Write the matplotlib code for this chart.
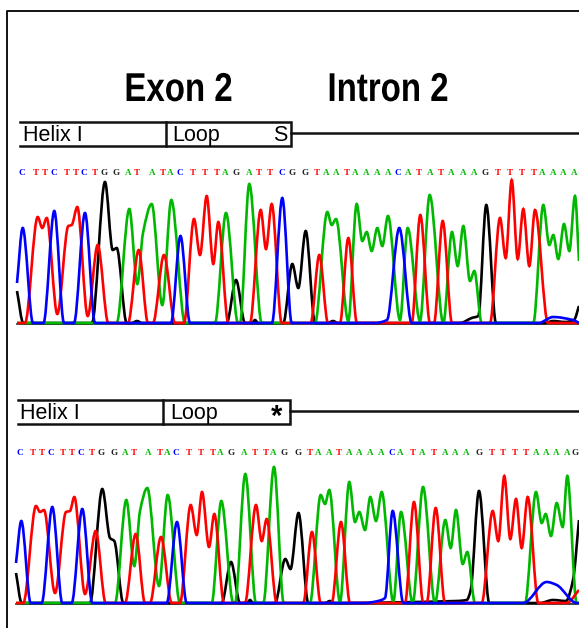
import matplotlib
matplotlib.use("Agg")
import matplotlib.pyplot as plt
from matplotlib.path import Path
from matplotlib.patches import PathPatch
from matplotlib.patheffects import AbstractPathEffect
from matplotlib.transforms import Affine2D

W, H = 579, 628

# base calls: letter and where it sits along the trace
top_bases = list("CTTCTTCTGGATATAC") + list("TTTAGATTCGG") + list("TAATAAAACATATAAAG") + list("TTTTAAAA")
top_base_x = [22, 36, 45, 54, 66.7, 75.7, 84.3, 95.3, 104, 116, 128.3, 137.3, 152.3, 163.3, 170.3, 180,
              192.7, 205.3, 217.3, 225, 236, 248.7, 259.3, 270, 282, 291.7, 305, 317.3, 326, 336, 346.7,
              355.3, 365.7, 376.7, 387.7, 398.3, 407.7, 418.7, 429.7, 441.3, 451.3, 462.7, 473.7, 485,
              498.3, 510.3, 522.3, 533.7, 542.3, 552.7, 562.7, 574.3]

bot_bases = list("CTTCTTCTGGATATAC") + list("TTTAGATTAGG") + list("TAATAAAACATATAAAG") + list("TTTTAAAAG")
bot_base_x = [20, 33, 42.3, 51, 63.3, 72.3, 81.3, 92.3, 101.3, 113.7, 125, 134, 148.3, 160, 166.7, 176.3,
              188.7, 200.7, 213, 220.3, 231, 244.3, 255, 265.7, 273.3, 284.3, 297.7, 310, 318.3, 329.3, 339,
              349, 359, 369.7, 380.7, 391.7, 400.3, 412.7, 422.3, 434, 444.7, 455.3, 466.3, 479,
              492, 503.3, 515.3, 526.3, 535.7, 545.7, 556.3, 567, 575.5]

# top trace, read as peaks / valleys / feet (scan position, signal)
top_blue_x = [17, 22.7, 33, 43.5, 54.3, 64, 74, 85, 95, 171, 180.5, 190, 272, 282.3, 291.7, 375, 387, 399.3, 411.7, 540, 544, 553, 573, 579]
top_blue_y = [40, 95, 0, 0, 112, 0, 0, 110, 0, 0, 87, 0, 0, 125, 0, 0, 3, 95, 0, 0, 2, 6, 3, 0]

top_red_x = [17, 25, 37.7, 42.3, 46.7, 57.3, 68.3, 71.7, 77.3, 87.7, 97.7, 108.3, 128, 138.7, 148, 153, 164, 175,
             184, 194, 200, 206.7, 213.3, 218.3, 228.3, 250, 260.7, 266, 271.7, 281.7, 310.7, 319.3, 328, 340,
             348.3, 357, 411.7, 420.3, 430, 434, 442.7, 452, 490, 500, 505.7, 511.7, 517.7, 523.3, 529.3, 535, 548, 579]
top_red_y = [0, 0, 106, 95, 105, 9, 97, 98, 116, 7, 78, 0, 0, 73, 0, 0, 68, 0,
             0, 104, 68, 127, 59, 101, 0, 0, 113, 74, 119, 0, 0, 68, 0, 0,
             85, 0, 0, 108, 0, 0, 102, 0, 0, 105, 65, 143, 64, 114, 57, 113, 0, 0]

top_green_x = [17, 116.7, 129.3, 137.3, 143, 151.7, 162.3, 171.3, 185, 215, 226, 238, 240, 249.3, 261.7, 315, 327.3,
               331.7, 336, 348.3, 356.7, 362.3, 366.7, 371.7, 377.3, 382.3, 388, 400, 407.7, 420, 429.7, 443.3,
               452, 457.7, 463.3, 470, 474.3, 481.7, 533.3, 543.3, 549.3, 553.3, 558.3, 564, 569.3, 575, 579]
top_green_y = [0, 0, 114, 39, 90, 119, 18, 123, 0, 0, 110, 0, 0, 139, 0, 0, 111,
               98, 104, 2, 119, 82, 91, 72, 95, 77, 107, 3, 95, 2, 128, 0,
               91, 57, 97, 42, 52, 0, 0, 118, 78, 88, 64, 99, 72, 127, 62]

top_black_x = [17, 23.3, 92, 105, 112.7, 116.7, 126.7, 132, 137, 142, 226.7, 236, 245, 252, 255, 258, 283.3, 292.3,
               298.3, 305.7, 315, 328, 333, 338, 460, 471.7, 478.3, 486.3, 496, 545, 553, 565, 574, 579]
top_black_y = [32, 0, 0, 141, 73, 75, 0, 0, 2, 0, 0, 43, 0, 0, 3, 0, 0, 59,
               35, 92, 0, 0, 2, 0, 0, 5, 7, 118, 0, 0, 2, 1, 3, 17]

# bottom trace
bot_blue_x = [16, 21.3, 30.7, 41.7, 52.3, 62.3, 71.7, 82.3, 92.3, 166.7, 177, 186.7, 365, 378, 385, 392.7, 403.3, 523.3, 546.7, 556.7, 576.7, 579]
bot_blue_y = [40, 82, 0, 0, 96, 0, 0, 94, 0, 0, 81, 0, 0, 2, 5, 92, 0, 0, 21, 18, 0, 0]

bot_red_x = [16, 23.3, 36, 40, 44, 55, 66, 70, 74.3, 85, 95.7, 105.7, 125, 135.7, 145, 150, 161, 171.7,
             180, 190.7, 196.7, 202, 209, 214.3, 224, 245, 256, 261.7, 266.7, 276.7, 303.3, 312, 320.7,
             331.7, 341, 350, 405, 414, 423.3, 426.7, 435.7, 445, 481.7, 492.7, 498.3, 504.3, 510.3, 516,
             521.7, 527.7, 538.3, 566.7, 579]
bot_red_y = [0, 0, 97, 91, 93, 10, 91, 92, 106, 9, 72, 0, 0, 69, 0, 0, 66, 0,
             0, 98, 68, 111, 56, 89, 0, 0, 98, 62, 84, 0, 0, 71, 0,
             0, 81, 0, 0, 101, 0, 0, 95, 0, 0, 92, 62, 127, 64, 104,
             55, 106, 0, 0, 13]

bot_green_x = [16, 115, 126.3, 134.3, 140, 147.3, 159, 167.7, 180, 211.7, 221.3, 233.3, 235, 245.3, 256, 263.3, 274,
               283.7, 310, 320.7, 325, 329.3, 340, 349.3, 355, 359.3, 365, 370.3, 376, 381.7, 393.3, 401, 412.7,
               423, 435, 445.3, 450.7, 456, 462.7, 467.3, 475, 525, 536, 541.7, 545.7, 551, 556.7, 562.7, 567.3,
               576.7, 579]
bot_green_y = [0, 0, 103, 37, 92, 115, 17, 108, 0, 0, 102, 0, 0, 129, 0, 0, 136,
               0, 0, 108, 99, 113, 1, 121, 81, 91, 73, 106, 82, 111, 1, 91, 0,
               116, 0, 83, 55, 93, 39, 51, 0, 0, 111, 80, 89, 67, 100, 76, 127,
               0, 0]

bot_black_x = [16, 21.7, 90, 102.3, 110, 114.3, 123.3, 221.7, 231, 240, 247, 250, 253, 275, 285.3, 290.5, 298.5,
               308.3, 325, 330, 335, 456.7, 466.7, 470.7, 479, 489.3, 540, 553, 566, 573, 579]
bot_black_y = [30, 0, 0, 114, 65, 62, 0, 0, 41, 0, 0, 3, 0, 0, 44, 34, 90,
               0, 0, 2, 0, 2, 3, 13, 112, 0, 0, 3, 2, 23, 83]

RED = "#ff0000"
GREEN = "#00b800"
BLUE = "#0000ff"
BLACK = "#000000"
BASE_COLORS = {"A": GREEN, "C": BLUE, "G": "#222222", "T": RED}


class Narrow(AbstractPathEffect):
    # no condensed bold font here, so squeeze the glyphs around the text centre
    def __init__(self, cx, factor):
        super().__init__()
        self.cx = cx
        self.factor = factor

    def draw_path(self, renderer, gc, tpath, affine, rgbFace=None):
        squeeze = Affine2D().translate(-self.cx, 0).scale(self.factor, 1).translate(self.cx, 0)
        renderer.draw_path(gc, tpath, affine + squeeze, rgbFace)


def trace_path(xs, ys):
    # monotone bezier through the read points, flat at every peak and valley
    n = len(xs)
    sec = [(ys[i + 1] - ys[i]) / (xs[i + 1] - xs[i]) for i in range(n - 1)]
    m = [sec[0]] + [0.0] * (n - 2) + [sec[-1]]
    for i in range(1, n - 1):
        if sec[i - 1] * sec[i] > 0:
            m[i] = 2 * sec[i - 1] * sec[i] / (sec[i - 1] + sec[i])
    verts = [(xs[0], ys[0])]
    codes = [Path.MOVETO]
    for i in range(n - 1):
        d = (xs[i + 1] - xs[i]) / 3
        verts += [(xs[i] + d, ys[i] + m[i] * d), (xs[i + 1] - d, ys[i + 1] - m[i + 1] * d), (xs[i + 1], ys[i + 1])]
        codes += [Path.CURVE4] * 3
    return Path(verts, codes)


def panel(base_y):
    a = fig.add_axes([0, (H - base_y - 3) / H, 1, 153 / H])
    a.set_xlim(0, W)
    a.set_ylim(-3, 150)
    a.axis("off")
    a.patch.set_alpha(0)
    return a


def draw_traces(a, channels, x_start):
    a.plot([x_start, W], [-0.8, -0.8], color="#222222", lw=1.2, zorder=1)
    for i, (xs, ys, col) in enumerate(channels):
        a.add_patch(PathPatch(trace_path(xs, ys), fc="none", ec=col, lw=1.9, zorder=2 + i))


fig = plt.figure(figsize=(W / 100, H / 100), dpi=100, facecolor="white")

ax = fig.add_axes([0, 0, 1, 1])
ax.set_xlim(0, W)
ax.set_ylim(H, 0)
ax.axis("off")

# frame, only left and top
ax.plot([6.7, 6.7, W], [H, 10.5, 10.5], color="black", lw=1.3)

title_font = ["Liberation Sans"]
for label, cx in [("Exon 2", 178.5), ("Intron 2", 388)]:
    t = ax.text(cx, 90, label, family=title_font, weight="bold", fontsize=29, ha="center", va="center")
    t.set_path_effects([Narrow(cx, 0.82)])

# exon / intron diagrams
for left, div, right, y0, y1, ymid in [(20, 166, 291, 122, 146, 133), (18, 163, 290, 400, 424, 411)]:
    ax.plot([left, right, right, left], [y0, y0, y1, y1], color="#111111", lw=1.8, solid_joinstyle="miter")
    ax.plot([div, div], [y0, y1], color="#111111", lw=1.8)
    ax.plot([right, W], [ymid, ymid], color="#111111", lw=1.8)

lab = ["Liberation Sans"]
ax.text(23, 135.5, "Helix I", family=lab, fontsize=15.5, ha="left", va="center")
ax.text(172, 135.5, "Loop", family=lab, fontsize=15.5, ha="left", va="center")
ax.text(273, 135.5, "S", family=lab, fontsize=15.5, ha="left", va="center")
ax.text(20, 413.5, "Helix I", family=lab, fontsize=15.5, ha="left", va="center")
ax.text(170, 413.5, "Loop", family=lab, fontsize=15.5, ha="left", va="center")
ax.text(277, 417, "*", family=lab, fontsize=21, weight="bold", ha="center", va="center")

# base calls
for letters, xs, y in [(top_bases, top_base_x, 172.7), (bot_bases, bot_base_x, 452.7)]:
    for ch, x in zip(letters, xs):
        ax.text(x, y, ch, family=["Liberation Serif"], weight="bold", fontsize=6.5,
                color=BASE_COLORS[ch], ha="center", va="center")

top_ax = panel(323)
draw_traces(top_ax, [(top_black_x, top_black_y, BLACK), (top_green_x, top_green_y, GREEN),
                     (top_red_x, top_red_y, RED), (top_blue_x, top_blue_y, BLUE)], 17)
bot_ax = panel(603)
draw_traces(bot_ax, [(bot_black_x, bot_black_y, BLACK), (bot_green_x, bot_green_y, GREEN),
                     (bot_red_x, bot_red_y, RED), (bot_blue_x, bot_blue_y, BLUE)], 16)

plt.savefig("out.png", dpi=100)
